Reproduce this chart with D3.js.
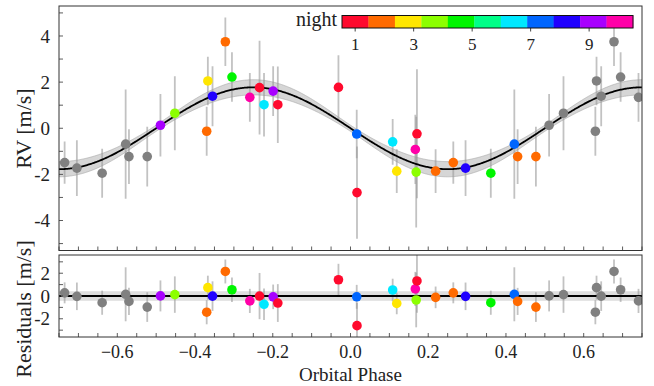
<!DOCTYPE html>
<html><head><meta charset="utf-8">
<script src="https://cdn.jsdelivr.net/npm/d3@7"></script>
<style>
body{margin:0;background:#fff}
svg{display:block}
text{font-family:"Liberation Serif","Times New Roman",serif;fill:#222}
</style>
</head><body>
<svg id="c" width="654" height="386"></svg>
<script>
// ---- data ----
const phase = [-0.489,-0.452,-0.370,-0.367,-0.355,-0.322,-0.305,-0.259,-0.234,-0.2225,-0.199,-0.187,-0.031,0.016,0.0167,0.1085,0.119,0.1668,0.169,0.171,0.219,0.2645,0.296,0.361,0.4215,0.430,0.477];
const rv    = [0.13,0.65,-0.13,2.05,1.39,3.75,2.22,1.34,1.76,1.02,1.61,1.02,1.77,-0.25,-2.79,-0.59,-1.86,-0.92,-1.90,-0.24,-1.86,-1.49,-1.73,-1.95,-0.69,-1.23,-1.23];
const rvErr = [1.36,1.6,1.06,1.05,1.3,1.05,1.07,1.06,2.03,1.38,1.08,1.66,1.4,1.05,2.0,0.99,0.95,1.5,2.4,2.8,0.95,0.92,1.21,1.06,2.37,1.19,1.3];
const night = [9,4,2,3,8,2,5,10,1,6,9,1,1,7,1,6,3,10,4,1,2,2,8,5,7,2,2];
const nightColors = ["#ff0a2e","#ff6a00","#ffe600","#8cff00","#00f500","#00ff88","#00e8ff","#0066ff","#2000ff","#a800ff","#ff00a8"];
const nightTicks = [1,3,5,7,9];
const xTicks = [-0.6,-0.4,-0.2,0,0.2,0.4,0.6];
const rvTicks = [-4,-2,0,2,4];
const resTicks = [-2,0,2];
// model parameters (sinusoidal fit)
const K = 1.775, Kerr = 0.33, phaseErr = 0.012, resBand = 0.42;

// ---- layout ----
const L = 59, R = 642;
const top1 = 6, bot1 = 250.5, top2 = 255, bot2 = 337;
const svg = d3.select("#c");

const x = d3.scaleLinear().domain([-0.75,0.75]).range([L,R]);
const y = d3.scaleLinear().domain([-5.3,5.3]).range([bot1,top1]);
const yr = d3.scaleLinear().domain([-3.6,3.6]).range([bot2,top2]);
const cScale = d3.scaleQuantize().domain([0.55,10.5]).range(nightColors);

const model = p => -K*Math.sin(2*Math.PI*p);
const modelErr = p => Math.hypot(Kerr*Math.sin(2*Math.PI*p), K*2*Math.PI*phaseErr*Math.cos(2*Math.PI*p));

// points incl. phase-folded copies (grey)
const pts = [];
phase.forEach((p,i)=>{
  [-1,0,1].forEach(s=>{
    const q = p+s;
    if (q>=-0.75 && q<=0.75) pts.push({p:q, rv:rv[i], e:rvErr[i], res:rv[i]-model(p),
      col: s===0 ? cScale(night[i]) : "#808080", grey: s!==0});
  });
});
pts.sort((a,b)=> (b.grey?1:0)-(a.grey?1:0));

const defs = svg.append("defs");
defs.append("clipPath").attr("id","cp1").append("rect").attr("x",L).attr("y",top1).attr("width",R-L).attr("height",bot1-top1);
defs.append("clipPath").attr("id","cp2").append("rect").attr("x",L).attr("y",top2).attr("width",R-L).attr("height",bot2-top2);

const grid = d3.range(-0.75,0.7501,0.0025);

// ---- top panel ----
const g1 = svg.append("g").attr("clip-path","url(#cp1)");
g1.append("path").datum(grid)
  .attr("d", d3.area().x(d=>x(d)).y0(d=>y(model(d)-modelErr(d))).y1(d=>y(model(d)+modelErr(d))))
  .attr("fill","#c8c8c8").attr("fill-opacity",0.75).attr("stroke","#a8a8a8").attr("stroke-width",0.6);
g1.selectAll("line.eb").data(pts).join("line").attr("class","eb")
  .attr("x1",d=>x(d.p)).attr("x2",d=>x(d.p))
  .attr("y1",d=>y(d.rv-d.e)).attr("y2",d=>y(d.rv+d.e))
  .attr("stroke","#9a9a9a").attr("stroke-opacity",0.6).attr("stroke-width",1.8);
g1.append("path").datum(grid)
  .attr("d", d3.line().x(d=>x(d)).y(d=>y(model(d))))
  .attr("fill","none").attr("stroke","#000").attr("stroke-width",1.8);
g1.selectAll("circle").data(pts).join("circle")
  .attr("cx",d=>x(d.p)).attr("cy",d=>y(d.rv)).attr("r",4.8).attr("fill",d=>d.col);

// ---- residual panel ----
const g2 = svg.append("g").attr("clip-path","url(#cp2)");
g2.append("rect").attr("x",L).attr("width",R-L)
  .attr("y",yr(resBand)).attr("height",yr(-resBand)-yr(resBand))
  .attr("fill","#d6d6d6").attr("fill-opacity",0.8);
g2.selectAll("line.eb").data(pts).join("line").attr("class","eb")
  .attr("x1",d=>x(d.p)).attr("x2",d=>x(d.p))
  .attr("y1",d=>yr(d.res-d.e)).attr("y2",d=>yr(d.res+d.e))
  .attr("stroke","#9a9a9a").attr("stroke-opacity",0.6).attr("stroke-width",1.8);
g2.append("line").attr("x1",L).attr("x2",R).attr("y1",yr(0)).attr("y2",yr(0))
  .attr("stroke","#000").attr("stroke-width",1.8);
g2.selectAll("circle").data(pts).join("circle")
  .attr("cx",d=>x(d.p)).attr("cy",d=>yr(d.res)).attr("r",4.8).attr("fill",d=>d.col);

// ---- axes ----
const minorX = d3.range(-0.75,0.7501,0.05);
function xAxisTicks(yb){
  svg.append("g").selectAll("line").data(minorX).join("line")
    .attr("x1",d=>x(d)).attr("x2",d=>x(d)).attr("y1",yb).attr("y2",yb-4)
    .attr("stroke","#333").attr("stroke-width",0.8);
}
xAxisTicks(bot1); xAxisTicks(bot2);
svg.append("g").selectAll("text").data(xTicks).join("text")
  .attr("x",d=>x(d)).attr("y",358).attr("text-anchor","middle").attr("font-size",18)
  .text(d=>d3.format(".1f")(d));

function yAxis(scale, minor, labels){
  svg.append("g").selectAll("line").data(minor).join("line")
    .attr("x1",L).attr("x2",L+4).attr("y1",d=>scale(d)).attr("y2",d=>scale(d))
    .attr("stroke","#333").attr("stroke-width",0.8);
  svg.append("g").selectAll("text").data(labels).join("text")
    .attr("x",L-9).attr("y",d=>scale(d)).attr("dy","0.35em").attr("text-anchor","end").attr("font-size",19)
    .text(d=>String(d));
}
yAxis(y, d3.range(-5,5.01,1), rvTicks);
yAxis(yr, d3.range(-3,3.01,1), resTicks);

// frames
[[top1,bot1],[top2,bot2]].forEach(([t,b])=>{
  svg.append("rect").attr("x",L).attr("y",t).attr("width",R-L).attr("height",b-t)
    .attr("fill","none").attr("stroke","#333").attr("stroke-width",1);
});

// axis titles
svg.append("text").attr("transform",`translate(31,128.5) rotate(-90)`)
  .attr("text-anchor","middle").attr("font-size",22).text("RV [m/s]");
svg.append("text").attr("transform",`translate(31,309) rotate(-90)`)
  .attr("text-anchor","middle").attr("font-size",22).text("Residuals [m/s]");
svg.append("text").attr("x",x(0)).attr("y",381).attr("text-anchor","middle").attr("font-size",19).text("Orbital Phase");

// ---- colour bar ----
const cb = d3.scaleLinear().domain([0.55,10.5]).range([342,633]);
const cbY = 15.5, cbH = 12.5;
const cw = (633-342)/nightColors.length;
svg.append("g").selectAll("rect").data(nightColors).join("rect")
  .attr("x",(d,i)=>342+i*cw).attr("y",cbY).attr("width",cw+0.3).attr("height",cbH).attr("fill",d=>d);
svg.append("rect").attr("x",342).attr("y",cbY).attr("width",291).attr("height",cbH)
  .attr("fill","none").attr("stroke","#111").attr("stroke-width",1);
svg.append("g").selectAll("line").data(nightTicks).join("line")
  .attr("x1",d=>cb(d)).attr("x2",d=>cb(d)).attr("y1",cbY+cbH).attr("y2",cbY+cbH+3.5)
  .attr("stroke","#111").attr("stroke-width",0.8);
svg.append("g").selectAll("text").data(nightTicks).join("text")
  .attr("x",d=>cb(d)).attr("y",50).attr("text-anchor","middle").attr("font-size",17).text(d=>d);
svg.append("text").attr("x",337).attr("y",26).attr("text-anchor","end").attr("font-size",20).text("night");
</script>
</body></html>
